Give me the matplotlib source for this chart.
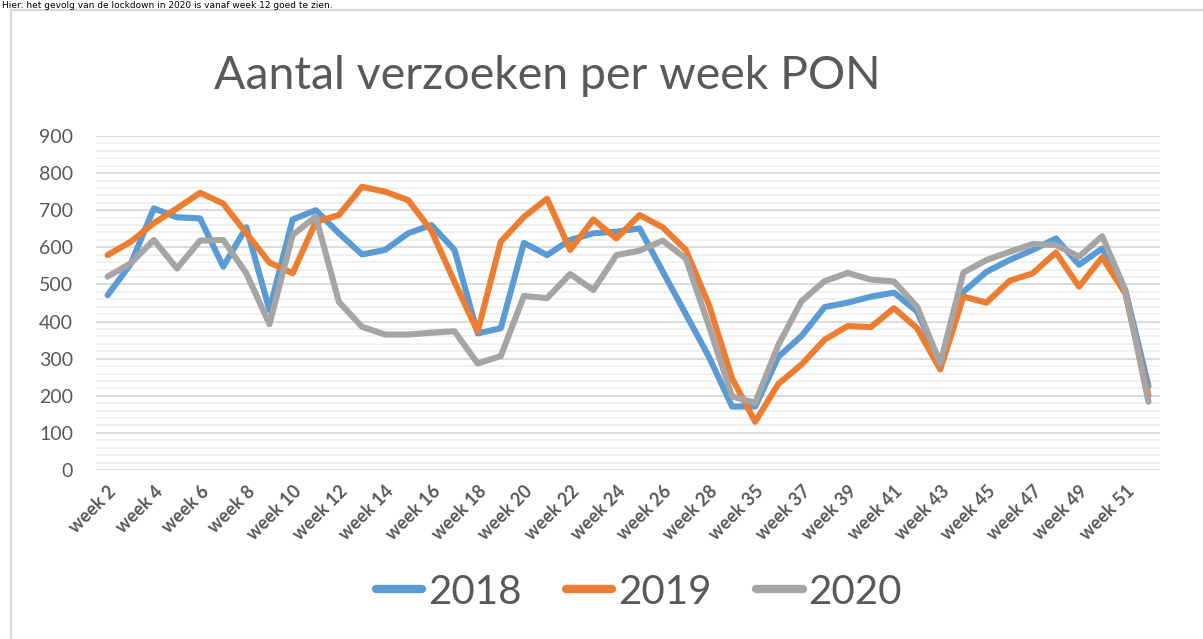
import matplotlib
matplotlib.use("Agg")
import matplotlib.pyplot as plt
from matplotlib.lines import Line2D
import numpy as np

weeks = [f"week {w}" for w in range(2, 29)] + ["week 29"] + [f"week {w}" for w in range(35, 53)]

y2018 = [471, 555, 705, 681, 678, 548, 654, 431, 675, 700, 638, 581, 593, 638, 660,
         593, 368, 382, 612, 579, 620, 638, 642, 651, 535, 420, 305, 171, 171, 305,
         361, 439, 451, 467, 478, 427, 287, 480, 534, 566, 593, 624, 553, 597, 485, 226]
y2019 = [579, 615, 665, 705, 747, 718, 638, 559, 530, 668, 687, 763, 750, 727, 645,
         507, 373, 615, 682, 731, 593, 675, 624, 687, 654, 593, 445, 247, 130, 232,
         284, 351, 388, 385, 436, 382, 271, 467, 451, 510, 530, 586, 494, 573, 476, 200]
y2020 = [521, 557, 620, 543, 618, 620, 530, 393, 633, 683, 453, 386, 365, 365, 370,
         374, 287, 307, 469, 463, 528, 485, 579, 591, 618, 570, 388, 198, 181, 337,
         455, 509, 531, 513, 508, 440, 287, 532, 566, 588, 609, 606, 575, 630, 485, 184]

series = [("2018", y2018, "#5B9BD5"), ("2019", y2019, "#ED7D31"), ("2020", y2020, "#A5A5A5")]

W, H = 1203, 639
fig = plt.figure(figsize=(W / 100, H / 100), dpi=100)
fig.patch.set_facecolor("white")

# outer chart border (partially visible)
fig.add_artist(Line2D([11 / W, 11 / W], [0, 1 - 10 / H], transform=fig.transFigure,
                      color="#D9D9D9", lw=1.6))
fig.add_artist(Line2D([11 / W, 1], [1 - 10 / H, 1 - 10 / H], transform=fig.transFigure,
                      color="#D9D9D9", lw=1.6))

# sentence above chart (cropped in the reference screenshot)
fig.text(2 / W, 1 - 0.5 / H, "Hier: het gevolg van de lockdown in 2020 is vanaf week 12 goed te zien.",
         fontsize=6.5, family="DejaVu Sans", color="black", va="top", ha="left")

ax = fig.add_axes([96 / W, 1 - 470 / H, 1064 / W, 334 / H])
x = np.arange(len(weeks))
for name, ys, c in series:
    ax.plot(x, ys, color=c, lw=4.4, label=name, solid_joinstyle="round",
            solid_capstyle="round", zorder=3)

ax.set_xlim(-0.5, len(weeks) - 0.5)
ax.set_ylim(0, 900)
ax.set_yticks(np.arange(0, 901, 100))
ax.set_yticks(np.arange(0, 901, 20), minor=True)
ax.grid(axis="y", which="major", color="#D9D9D9", lw=1.3, zorder=1)
ax.grid(axis="y", which="minor", color="#EEEEEE", lw=1.1, zorder=0)
ax.set_axisbelow(True)
for s in ax.spines.values():
    s.set_visible(False)
ax.tick_params(axis="both", which="both", length=0)
ax.tick_params(axis="y", pad=16.5, labelsize=14, labelcolor="#595959")
for lab in ax.get_yticklabels():
    lab.set_family("Lato")

ax.set_xticks(x[::2])
ax.set_xticklabels(weeks[::2], rotation=45, ha="right", va="top", rotation_mode="anchor",
                   fontsize=13, fontweight="bold", color="#595959", family="Lato")
ax.tick_params(axis="x", pad=9)

fig.text(547 / W, 1 - 76 / H, "Aantal verzoeken per week PON", ha="center", va="center",
         fontsize=33.5, color="#595959", family="Lato", fontweight="normal")

handles = [Line2D([0], [0], color=c, lw=6, solid_capstyle="round") for _, _, c in series]
leg = fig.legend(handles, [s[0] for s in series], loc="center", bbox_to_anchor=(639 / W, 1 - 592 / H),
                 ncol=3, frameon=False, handlelength=1.15, handletextpad=0.15, columnspacing=1.1,
                 prop={"family": "Lato", "size": 29})
for t in leg.get_texts():
    t.set_color("#595959")

fig.savefig("out.png", dpi=100, facecolor="white")
